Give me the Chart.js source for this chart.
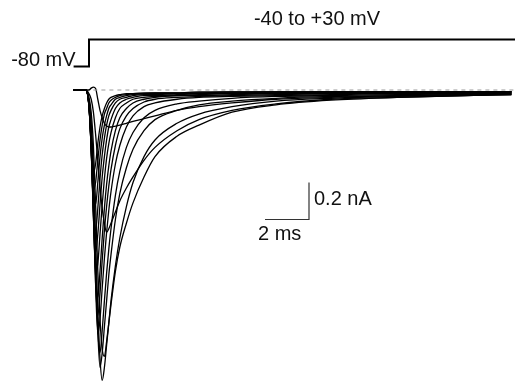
<!DOCTYPE html>
<html>
<head>
<meta charset="utf-8">
<script src="https://cdn.jsdelivr.net/npm/chart.js@4"></script>
<style>
  html, body { margin: 0; padding: 0; background: #fff; }
  #wrap { width: 515px; height: 383px; }
</style>
</head>
<body>
<div id="wrap"><canvas id="traces" width="515" height="383"></canvas></div>
<script>
// sample times (ms, 0 = step onset)
const timeMs = [-0.7, -0.15, 0, 0.1, 0.2, 0.3, 0.4, 0.5, 0.6, 0.7, 0.8, 0.9, 1.0, 1.2, 1.4, 1.7, 2.0, 2.5, 3.0, 4.0, 5.0, 6.5, 8.5, 11, 14, 17, 19.2];

// currents (nA) for each test potential
const iM40 = [0, 0, 0, 0.01, 0.016, 0.008, -0.05, -0.11, -0.15, -0.18, -0.195, -0.2, -0.2, -0.195, -0.19, -0.18, -0.17, -0.155, -0.14, -0.11, -0.09, -0.07, -0.05, -0.04, -0.03, -0.025, -0.02];
const iM35 = [0, 0, -0.02, -0.05, -0.12, -0.24, -0.38, -0.52, -0.64, -0.72, -0.77, -0.75, -0.72, -0.66, -0.6, -0.53, -0.47, -0.38, -0.31, -0.22, -0.16, -0.11, -0.075, -0.05, -0.04, -0.03, -0.025];
const iM30 = [0, 0, -0.04, -0.12, -0.3, -0.62, -0.98, -1.24, -1.4, -1.44, -1.36, -1.26, -1.16, -0.98, -0.85, -0.72, -0.61, -0.47, -0.36, -0.25, -0.19, -0.12, -0.08, -0.055, -0.04, -0.03, -0.025];
const iM25 = [0, 0, -0.06, -0.18, -0.42, -0.82, -1.18, -1.45, -1.57, -1.5, -1.38, -1.26, -1.14, -0.95, -0.8, -0.63, -0.5, -0.36, -0.27, -0.18, -0.13, -0.09, -0.06, -0.045, -0.035, -0.03, -0.025];
const iM20 = [0, 0, -0.07, -0.22, -0.5, -0.92, -1.3, -1.5, -1.42, -1.28, -1.14, -1.0, -0.89, -0.7, -0.56, -0.42, -0.32, -0.22, -0.16, -0.11, -0.08, -0.06, -0.045, -0.035, -0.03, -0.025, -0.02];
const iM15 = [0, 0, -0.07, -0.24, -0.55, -0.98, -1.3, -1.42, -1.3, -1.14, -0.99, -0.86, -0.75, -0.57, -0.44, -0.31, -0.23, -0.15, -0.11, -0.075, -0.06, -0.045, -0.035, -0.03, -0.025, -0.02, -0.02];
const iM10 = [0, 0, -0.08, -0.27, -0.62, -1.05, -1.32, -1.24, -1.07, -0.91, -0.77, -0.65, -0.55, -0.4, -0.3, -0.2, -0.14, -0.09, -0.07, -0.05, -0.04, -0.035, -0.03, -0.025, -0.02, -0.02, -0.015];
const iM5 = [0, 0, -0.08, -0.28, -0.64, -1.04, -1.22, -1.1, -0.92, -0.76, -0.63, -0.52, -0.43, -0.3, -0.21, -0.14, -0.1, -0.065, -0.05, -0.04, -0.035, -0.03, -0.025, -0.02, -0.02, -0.015, -0.015];
const i0 = [0, 0, -0.09, -0.3, -0.66, -1.0, -1.12, -0.98, -0.8, -0.64, -0.51, -0.41, -0.33, -0.22, -0.15, -0.1, -0.07, -0.05, -0.04, -0.03, -0.03, -0.025, -0.02, -0.02, -0.015, -0.015, -0.01];
const iP5 = [0, 0, -0.09, -0.31, -0.68, -0.98, -0.94, -0.78, -0.62, -0.48, -0.37, -0.29, -0.23, -0.15, -0.1, -0.07, -0.05, -0.04, -0.035, -0.03, -0.025, -0.02, -0.02, -0.015, -0.015, -0.01, -0.01];
const iP10 = [0, 0, -0.09, -0.32, -0.68, -0.88, -0.78, -0.62, -0.47, -0.36, -0.27, -0.2, -0.16, -0.1, -0.07, -0.05, -0.04, -0.03, -0.03, -0.025, -0.02, -0.02, -0.015, -0.015, -0.01, -0.01, -0.01];
const iP15 = [0, 0, -0.09, -0.32, -0.64, -0.76, -0.64, -0.48, -0.35, -0.26, -0.19, -0.14, -0.11, -0.07, -0.05, -0.04, -0.03, -0.025, -0.025, -0.02, -0.02, -0.015, -0.015, -0.01, -0.01, -0.01, -0.01];
const iP20 = [0, 0, -0.09, -0.32, -0.6, -0.62, -0.5, -0.36, -0.26, -0.19, -0.14, -0.1, -0.08, -0.05, -0.04, -0.03, -0.025, -0.02, -0.02, -0.02, -0.015, -0.015, -0.01, -0.01, -0.01, -0.01, -0.01];
const iP25 = [0, 0, -0.09, -0.31, -0.54, -0.5, -0.38, -0.27, -0.19, -0.13, -0.1, -0.07, -0.055, -0.04, -0.03, -0.025, -0.02, -0.02, -0.015, -0.015, -0.015, -0.01, -0.01, -0.01, -0.01, -0.01, -0.01];
const iP30 = [0, 0, -0.08, -0.28, -0.45, -0.4, -0.29, -0.2, -0.14, -0.1, -0.07, -0.05, -0.04, -0.03, -0.025, -0.02, -0.02, -0.015, -0.015, -0.015, -0.01, -0.01, -0.01, -0.01, -0.01, -0.01, -0.01];

const traceList = [iM40, iM35, iM30, iM25, iM20, iM15, iM10, iM5, i0, iP5, iP10, iP15, iP20, iP25, iP30];

// voltage protocol (schematic)
const protocolTimeMs = [-0.7, 0, 0, 19.4];
const protocolMv = [-80, -80, 30, 30];

// zero current reference
const zeroTimeMs = [0.2, 19.4];
const zeroCurrent = [0, 0];

// scale bar: 2 ms x 0.2 nA
const scaleBarTime = [8, 10, 10];
const scaleBarCurrent = [-0.7, -0.7, -0.5];

function xy(xs, ys) {
    return xs.map((x, i) => ({ x: x, y: ys[i] }));
}

const datasets = [];

datasets.push({
    data: xy(zeroTimeMs, zeroCurrent),
    borderColor: '#9a9a9a',
    borderWidth: 1,
    borderDash: [4, 4],
    pointRadius: 0,
    yAxisID: 'y'
});

traceList.forEach(tr => {
    datasets.push({
        data: xy(timeMs, tr),
        borderColor: '#000',
        borderWidth: 1.3,
        pointRadius: 0,
        cubicInterpolationMode: 'monotone',
        yAxisID: 'y'
    });
});

datasets.push({
    data: xy(protocolTimeMs, protocolMv),
    borderColor: '#000',
    borderWidth: 2,
    pointRadius: 0,
    tension: 0,
    yAxisID: 'v'
});

datasets.push({
    data: xy(scaleBarTime, scaleBarCurrent),
    borderColor: '#333',
    borderWidth: 1.2,
    pointRadius: 0,
    tension: 0,
    yAxisID: 'y'
});

// labels of protocol and scale bar
const labelPlugin = {
    id: 'labels',
    afterDatasetsDraw(chart) {
        const ctx = chart.ctx;
        const x = chart.scales.x, y = chart.scales.y, v = chart.scales.v;
        ctx.save();
        ctx.fillStyle = '#111';
        ctx.font = '20px "Liberation Sans", Arial, sans-serif';
        ctx.textBaseline = 'alphabetic';

        ctx.textAlign = 'center';
        ctx.fillText('-40 to +30 mV', 317, v.getPixelForValue(30) - 15);

        ctx.textAlign = 'right';
        ctx.fillText('-80 mV', x.getPixelForValue(-0.7) + 2, v.getPixelForValue(-80) - 1);

        ctx.textAlign = 'left';
        ctx.fillText('0.2 nA', x.getPixelForValue(10) + 5, y.getPixelForValue(-0.6) + 4);
        ctx.fillText('2 ms', x.getPixelForValue(8) - 7, y.getPixelForValue(-0.7) + 20);
        ctx.restore();
    }
};

new Chart(document.getElementById('traces'), {
    type: 'line',
    data: { datasets: datasets },
    options: {
        responsive: false,
        animation: false,
        devicePixelRatio: 1,
        layout: { padding: 0 },
        scales: {
            x: { type: 'linear', display: false, min: -89 / 22, max: (515 - 89) / 22 },
            y: { type: 'linear', display: false, min: -(383 - 90) / 185, max: 90 / 185 },
            v: { type: 'linear', display: false, min: 30 + 39.5 / (27 / 110) - 383 / (27 / 110), max: 30 + 39.5 / (27 / 110) }
        },
        plugins: {
            legend: { display: false },
            tooltip: { enabled: false }
        }
    },
    plugins: [labelPlugin]
});
</script>
</body>
</html>
